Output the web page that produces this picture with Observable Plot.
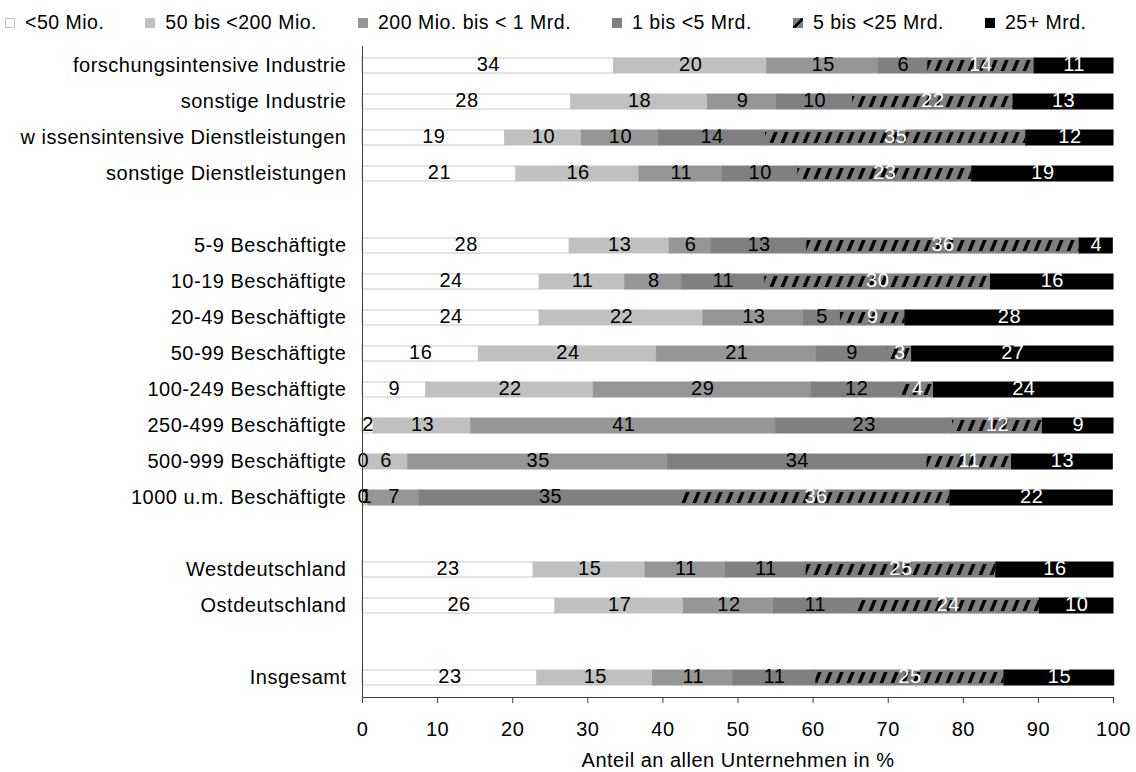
<!DOCTYPE html>
<html><head><meta charset="utf-8">
<script src="https://cdn.jsdelivr.net/npm/d3@7"></script>
<script src="https://cdn.jsdelivr.net/npm/@observablehq/plot@0.6"></script>
<style>
body{margin:0;background:#fff;font-family:"Liberation Sans",Arial,sans-serif;}
#wrap{position:relative;width:1136px;height:772px;}
#legend{position:absolute;left:5px;top:11px;display:flex;align-items:center;font-size:19.5px;color:#000;white-space:nowrap;letter-spacing:0.5px;}
.item{display:flex;align-items:center;margin-right:41px;}
.sw{width:10px;height:10px;margin-right:10px;box-sizing:border-box;}
#chart{position:absolute;left:0;top:0;}
</style></head><body>
<div id="wrap"><div id="chart"></div><div id="legend"></div></div>
<script>
const categories = [
  "forschungsintensive Industrie","sonstige Industrie","w issensintensive Dienstleistungen","sonstige Dienstleistungen",
  " ",
  "5-9 Beschäftigte","10-19 Beschäftigte","20-49 Beschäftigte","50-99 Beschäftigte","100-249 Beschäftigte",
  "250-499 Beschäftigte","500-999 Beschäftigte","1000 u.m. Beschäftigte",
  "  ",
  "Westdeutschland","Ostdeutschland",
  "   ",
  "Insgesamt"
];
const rows = categories.filter(c => c.trim() !== "");
const series = ["<50 Mio.","50 bis <200 Mio.","200 Mio. bis < 1 Mrd.","1 bis <5 Mrd.","5 bis <25 Mrd.","25+ Mrd."];
const s0 = [33.5, 27.8, 19.0, 20.5, 27.6, 23.6, 23.6, 15.5,  8.5,  1.5,  0.2,  0.2, 22.8, 25.7, 23.3];
const s1 = [20.4, 18.2, 10.2, 16.4, 13.3, 11.4, 21.8, 23.7, 22.3, 13.0,  5.9,  0.6, 14.9, 17.1, 15.4];
const s2 = [14.9,  9.2, 10.3, 11.1,  5.6,  7.6, 13.4, 21.3, 29.0, 40.6, 34.6,  6.8, 10.7, 12.0, 10.7];
const s3 = [ 6.4, 10.0, 14.1,  9.9, 12.6, 10.9,  4.8,  9.4, 12.0, 23.4, 34.4, 34.9, 10.6, 11.0, 10.9];
const s4 = [14.3, 21.5, 34.8, 23.3, 36.4, 30.2,  8.7,  3.3,  4.3, 12.1, 11.4, 35.8, 25.4, 24.4, 25.2];
const s5 = [10.5, 13.3, 11.6, 18.8,  4.4, 16.3, 27.7, 26.8, 23.9,  9.4, 13.4, 21.6, 15.6,  9.8, 14.6];
const seriesValues = [s0, s1, s2, s3, s4, s5];
const fills = ["#ffffff","#c0c0c0","#969696","#808080","url(#hatch)","#000000"];
const strokes = ["#c8c8c8","#c0c0c0","#969696","#808080","#808080","#000000"];
const labelColors = ["black","black","black","black","white","white"];
const xTicks = [0,10,20,30,40,50,60,70,80,90,100];

const data = [];
rows.forEach((cat, r) => series.forEach((s, i) => data.push({cat, series: s, si: i, value: seriesValues[i][r]})));

const chart = Plot.plot({
  width: 1136, height: 772,
  marginTop: 46, marginBottom: 75, marginLeft: 362, marginRight: 23,
  style: {fontFamily: '"Liberation Sans", Arial, sans-serif', fontSize: "20px", letterSpacing: "0.5px", color: "#000", background: "#fff"},
  x: {domain: [0, 100]},
  y: {domain: categories, paddingInner: 0.57, paddingOuter: 0.285},
  color: {type: "ordinal", domain: series, range: fills},
  marks: [
    Plot.barX(data, Plot.stackX({x: "value", y: "cat", z: "series", fill: "series", stroke: d => strokes[d.si], strokeWidth: 1})),
    Plot.text(data, Plot.stackX({x: "value", y: "cat", z: "series", text: d => String(Math.round(d.value)), fill: d => labelColors[d.si], dy: -1})),
    Plot.frame({anchor: "left", stroke: "#404040"}),
    Plot.frame({anchor: "bottom", stroke: "#404040"}),
    Plot.axisY({tickSize: 0, tickPadding: 16, label: null}),
    Plot.axisX({ticks: xTicks, tickSize: 6, tickPadding: 18, stroke: "#404040", label: "Anteil an allen Unternehmen in %", labelArrow: false, labelAnchor: "center", labelOffset: 69})
  ]
});

// hatch pattern aligned with bands
const ys = chart.scale("y");
const bandStart = ys.apply(categories[0]);
const step = ys.step || (ys.apply(categories[1]) - ys.apply(categories[0]));
const bw = ys.bandwidth;
const ns = "http://www.w3.org/2000/svg";
const defs = document.createElementNS(ns, "defs");
const pat = document.createElementNS(ns, "pattern");
pat.setAttribute("id", "hatch");
pat.setAttribute("patternUnits", "userSpaceOnUse");
pat.setAttribute("x", 362); pat.setAttribute("y", bandStart);
pat.setAttribute("width", 11); pat.setAttribute("height", step);
const bg = document.createElementNS(ns, "rect");
bg.setAttribute("width", 11); bg.setAttribute("height", step); bg.setAttribute("fill", "#808080");
const sl = document.createElementNS(ns, "path");
sl.setAttribute("d", `M0.5,${bw-2} L4.2,${bw-2} L8.7,2 L5,2 Z`);
sl.setAttribute("fill", "#000");
pat.appendChild(bg); pat.appendChild(sl); defs.appendChild(pat);
chart.insertBefore(defs, chart.firstChild);
document.getElementById("chart").appendChild(chart);

// legend
const legend = document.getElementById("legend");
series.forEach((s, i) => {
  const it = document.createElement("div"); it.className = "item";
  const sw = document.createElement("span"); sw.className = "sw";
  if (i === 4) sw.style.background = "linear-gradient(135deg, #808080 0 42%, #000 42% 62%, #808080 62% 100%)";
  else sw.style.background = fills[i];
  if (i === 0) sw.style.border = "1px solid #c0c0c0";
  const tx = document.createElement("span"); tx.textContent = s;
  it.appendChild(sw); it.appendChild(tx); legend.appendChild(it);
});
</script>
</body></html>
